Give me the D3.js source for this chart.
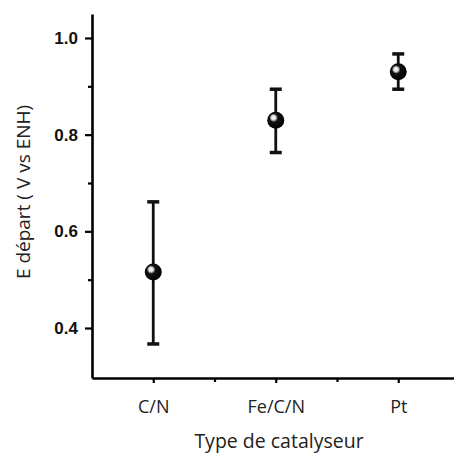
<!DOCTYPE html>
<html><head><meta charset="utf-8">
<script src="https://cdn.jsdelivr.net/npm/d3@7"></script>
<style>body{margin:0;background:#fff}</style>
</head><body>
<script>
const categories = ["C/N", "Fe/C/N", "Pt"];
const means = [0.516, 0.830, 0.930];
const lows = [0.367, 0.763, 0.894];
const highs = [0.661, 0.894, 0.967];
const yTicks = [0.4, 0.6, 0.8, 1.0];
const yMinor = [0.5, 0.7, 0.9];
const xMinor = [1.5, 2.5];
const yLabel = "E départ ( V vs ENH)";
const xLabel = "Type de catalyseur";

const W = 454, H = 453;
const svg = d3.select("body").append("svg").attr("width", W).attr("height", H);
const x = d3.scaleLinear().domain([0.5, 3.5]).range([92, 459.5]);
const y = d3.scaleLinear().domain([0.2966, 1.0496]).range([378, 14]);

const defs = svg.append("defs");
const g = defs.append("radialGradient").attr("id", "ball").attr("cx", "40%").attr("cy", "40%").attr("r", "60%").attr("fx","36%").attr("fy","34%");
g.append("stop").attr("offset", "0%").attr("stop-color", "#fff");
g.append("stop").attr("offset", "22%").attr("stop-color", "#ddd");
g.append("stop").attr("offset", "42%").attr("stop-color", "#111");
g.append("stop").attr("offset", "100%").attr("stop-color", "#000");

// Y axis
const yAxis = d3.axisLeft(y).tickValues(yTicks).tickFormat(d3.format(".1f")).tickSize(7).tickSizeOuter(0);
const ya = svg.append("g").attr("transform", "translate(92,0)").call(yAxis);
ya.select(".domain").attr("stroke-width", 2.6);
ya.selectAll(".tick line").attr("stroke-width", 2.2);
ya.selectAll(".tick text").attr("font-family", "Liberation Sans, Arial, sans-serif").attr("font-weight", "bold").attr("font-size", 17).attr("fill", "#111").attr("x", -14);
svg.append("g").attr("transform", "translate(92,0)")
  .call(d3.axisLeft(y).tickValues(yMinor).tickFormat("").tickSize(4).tickSizeOuter(0))
  .call(s => s.select(".domain").remove()).selectAll("line").attr("stroke-width", 2.2);

// X axis
const xa = svg.append("g").attr("transform", "translate(0,378)")
  .call(d3.axisBottom(x).tickValues([1, 2, 3]).tickFormat((d, i) => categories[i]).tickSize(5).tickSizeOuter(0));
xa.select(".domain").attr("stroke-width", 2.6);
xa.selectAll(".tick line").attr("stroke-width", 2.2);
xa.selectAll(".tick text").attr("font-family", "Open Sans, sans-serif").attr("font-size", 18).attr("fill", "#222").attr("dy", 0).attr("y", 35);
svg.append("g").attr("transform", "translate(0,378)")
  .call(d3.axisBottom(x).tickValues(xMinor).tickFormat("").tickSize(4).tickSizeOuter(0))
  .call(s => s.select(".domain").remove()).selectAll("line").attr("stroke-width", 2.2);

// labels
svg.append("text").attr("transform", "translate(30,192) rotate(-90)").attr("text-anchor", "middle")
  .attr("font-family", "Open Sans, sans-serif").attr("font-size", 19).attr("fill", "#222").text(yLabel);
svg.append("text").attr("x", 279).attr("y", 448).attr("text-anchor", "middle")
  .attr("font-family", "Open Sans, sans-serif").attr("font-size", 19.5).attr("fill", "#222").text(xLabel);

// error bars
const data = categories.map((c, i) => ({c, i, m: means[i], lo: lows[i], hi: highs[i]}));
const eb = svg.append("g").attr("stroke", "#111").attr("stroke-width", 2.8);
eb.selectAll(".v").data(data).join("line").attr("x1", d => x(d.i + 1)).attr("x2", d => x(d.i + 1)).attr("y1", d => y(d.lo)).attr("y2", d => y(d.hi));
eb.selectAll(".ct").data(data).join("line").attr("x1", d => x(d.i + 1) - 6).attr("x2", d => x(d.i + 1) + 6).attr("y1", d => y(d.hi)).attr("y2", d => y(d.hi)).attr("stroke-width", 3.5);
eb.selectAll(".cb").data(data).join("line").attr("x1", d => x(d.i + 1) - 6).attr("x2", d => x(d.i + 1) + 6).attr("y1", d => y(d.lo)).attr("y2", d => y(d.lo)).attr("stroke-width", 3.5);
svg.selectAll(".pt").data(data).join("circle").attr("cx", d => x(d.i + 1)).attr("cy", d => y(d.m)).attr("r", 8.5).attr("fill", "url(#ball)");
</script>
</body></html>
